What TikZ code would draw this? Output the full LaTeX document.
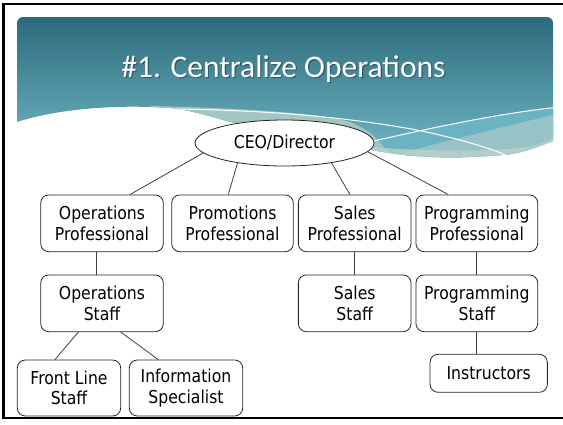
\documentclass[tikz,border=0pt]{standalone}
\usepackage{fontspec}
\usetikzlibrary{shapes.geometric}
\newfontfamily\boxfont[FakeStretch=0.88]{DejaVu Sans}
\newfontfamily\titlefont{Carlito}
\definecolor{tealtop}{HTML}{2D6B7B}
\definecolor{tealbot}{HTML}{66ABBA}
\definecolor{paleband}{HTML}{A3C6C5}
\definecolor{paleright}{HTML}{97C3C8}
\definecolor{brightteal}{HTML}{6BB3C3}
\definecolor{lowband}{HTML}{B9D1CA}
\begin{document}
\begin{tikzpicture}[x=1pt,y=-1pt,
  orgbox/.style={draw=black!85, line width=0.8pt, rounded corners=8pt, fill=white,
    align=center, inner sep=0pt, font=\boxfont\fontsize{17.8}{20.7}\selectfont},
  link/.style={draw=black!75, line width=0.8pt},
  waveline/.style={draw=white, line width=1pt}]

\useasboundingbox (0,0) rectangle (563,424);
\fill[white] (0,0) rectangle (563,424);

% title banner with waves
\begin{scope}
  \clip[rounded corners=6pt] (17,17) rectangle (553,175);
  \clip (17,17) -- (553,17) -- (553,141)
    .. controls (530,150) and (520,153) .. (507,154.5)
    .. controls (480,157) and (455,158) .. (433,157)
    .. controls (410,156) and (395,154) .. (383,152)
    .. controls (330,143) and (290,135) .. (250,127)
    .. controls (215,119) and (190,108) .. (160,107.5)
    .. controls (120,105) and (60,108) .. (17,122) -- cycle;
  \shade[top color=tealtop, bottom color=tealbot] (17,17) rectangle (553,135);
  \fill[tealbot] (17,134) rectangle (553,175);
  % bright band under the rising line
  \fill[brightteal] (553,107.7) .. controls (480,116) and (400,135) .. (330,152)
    -- (330,175) -- (560,175) -- cycle;
  % pale wave from the left
  \fill[paleband] (150,106) .. controls (240,108) and (320,113) .. (350,122)
    .. controls (370,130) and (385,142) .. (400,175) -- (150,175) -- cycle;
  % pale wave on the right
  \fill[paleright] (553,115) .. controls (510,125) and (460,138) .. (420,148)
    .. controls (400,153) and (390,158) .. (380,175) -- (560,175) -- cycle;
  % light band along the bottom
  \fill[lowband, opacity=0.8] (370,147) .. controls (420,151) and (480,152) .. (520,148)
    .. controls (535,146) and (545,142) .. (553,138) -- (560,175) -- (370,175) -- cycle;
  % thin white lines
  \draw[waveline] (172,109) .. controls (260,110) and (340,116) .. (417,130)
    .. controls (460,139) and (490,148) .. (508,156);
  \draw[waveline] (330,151) .. controls (400,135) and (480,116) .. (553,107.7);
\end{scope}

\node[anchor=base, text=black, opacity=0.35, font=\titlefont\fontsize{31.5}{36}\selectfont]
  (titleshadow) at (284.7,78.2) {\#1. Centralize Operations};
\node[anchor=base, text=white, font=\titlefont\fontsize{31.5}{36}\selectfont]
  (title) at (283.5,77) {\#1. Centralize Operations};

% slide frame
\draw[line width=2.8pt] (563,4) -- (3.5,4) -- (3.5,418) -- (563,418);

% org chart
\node[ellipse, draw=black!85, fill=white, line width=0.8pt, inner sep=0pt,
  minimum width=179pt, minimum height=46pt,
  font=\boxfont\fontsize{17.8}{20.7}\selectfont] (ceo) at (284.5,143) {CEO/Director};

\node[orgbox, minimum width=122.6pt, minimum height=56.7pt] (opsprof) at (102,223.3) {Operations\\Professional};
\node[orgbox, minimum width=121.6pt, minimum height=56.7pt] (promo) at (232.5,223.3) {Promotions\\Professional};
\node[orgbox, minimum width=112.7pt, minimum height=56.7pt] (salesprof) at (354.7,223.3) {Sales\\Professional};
\node[orgbox, minimum width=121.7pt, minimum height=56.7pt] (progprof) at (476.8,223.3) {Programming\\Professional};

\node[orgbox, minimum width=122.6pt, minimum height=56.7pt] (opsstaff) at (102,303.3) {Operations\\Staff};
\node[orgbox, minimum width=112.7pt, minimum height=56.7pt] (salesstaff) at (354.7,303.3) {Sales\\Staff};
\node[orgbox, minimum width=121.7pt, minimum height=56.7pt] (progstaff) at (476.8,303.3) {Programming\\Staff};

\node[orgbox, minimum width=103.4pt, minimum height=56pt] (frontline) at (69,388) {Front Line\\Staff};
\node[orgbox, minimum width=113.4pt, minimum height=56pt] (infospec) at (186,388) {Information\\Specialist};
\node[orgbox, minimum width=117.3pt, minimum height=38pt] (instr) at (488.7,373.3) {Instructors};

\draw[link] (ceo.187) -- ([xshift=28pt]opsprof.north);
\draw[link] (ceo.203) -- ([xshift=-4.2pt]promo.north);
\draw[link] (ceo.337) -- ([xshift=-4.7pt]salesprof.north);
\draw[link] (ceo.354) -- ([xshift=-28.5pt]progprof.north);

\draw[link] ([xshift=-5.3pt]opsprof.south) -- ([xshift=-5.3pt]opsstaff.north);
\draw[link] (salesprof) -- (salesstaff);
\draw[link] (progprof) -- (progstaff);
\draw[link] (progstaff.south) -- (progstaff.south |- instr.north);
\draw[link] ([xshift=-23.7pt]opsstaff.south) -- ([xshift=-14pt]frontline.north);
\draw[link] ([xshift=18.7pt]opsstaff.south) -- ([xshift=-27.7pt]infospec.north);
\end{tikzpicture}
\end{document}
